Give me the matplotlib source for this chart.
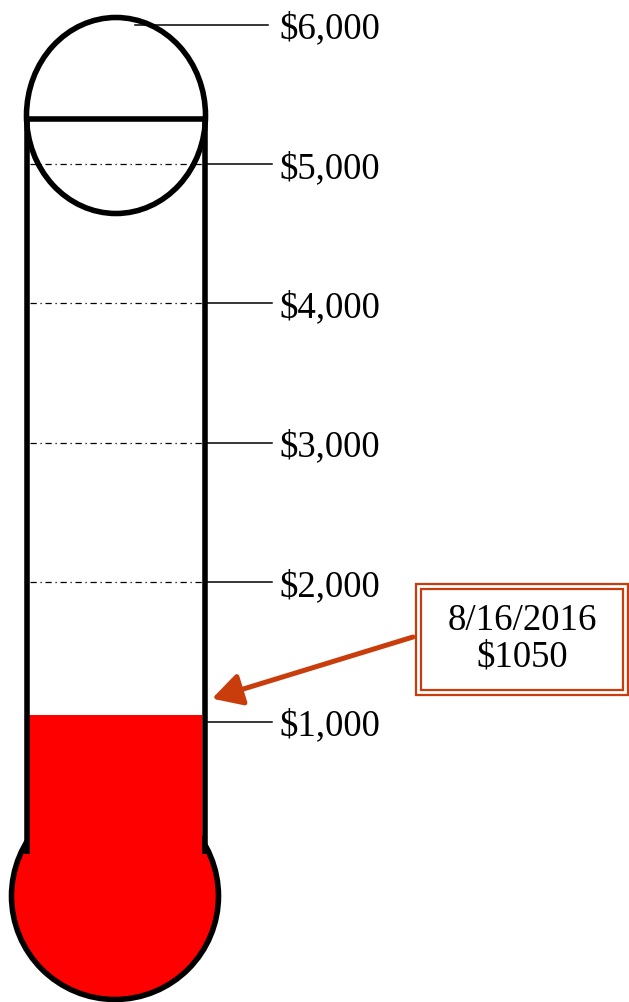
import matplotlib.pyplot as plt
from matplotlib.patches import Ellipse, Rectangle, FancyArrowPatch

# goal thermometer data
tick_values = [1000, 2000, 3000, 4000, 5000, 6000]
tick_labels = ['$1,000', '$2,000', '$3,000', '$4,000', '$5,000', '$6,000']
current_value = 1050
current_date = '8/16/2016'

# pixel <-> dollar mapping used for the drawing
PX0 = 862.0      # pixel row of $0
K = 0.1394       # pixels per dollar


def vy(px):
    return (PX0 - px) / K


fig = plt.figure(figsize=(6.29, 10.03), dpi=100)
ax = fig.add_axes([0, 0, 1, 1])
ax.set_xlim(0, 629)
ax.set_ylim(vy(1003), vy(0))
ax.axis('off')

red = '#FF0000'
orange = '#C93D0C'
lw = 4.0

# bulb
ax.add_patch(Ellipse((115, vy(897)), 207, 207 / K, facecolor=red,
                     edgecolor='black', lw=lw, zorder=2))
# mercury column
ax.add_patch(Rectangle((29, vy(900)), 173, current_value - vy(900),
                       facecolor=red, edgecolor='none', zorder=3))

# tube walls + top cap
ax.plot([26.5, 26.5], [vy(120), vy(855)], color='black', lw=lw, zorder=4,
        solid_capstyle='butt')
ax.plot([204.5, 204.5], [vy(120), vy(855)], color='black', lw=lw, zorder=4,
        solid_capstyle='butt')
ax.plot([24, 207], [vy(120), vy(120)], color='black', lw=lw, zorder=4,
        solid_capstyle='butt')
ax.add_patch(Ellipse((116, vy(116.5)), 179, 196 / K, facecolor='none',
                     edgecolor='black', lw=lw, zorder=4))

# scale lines and labels
for v, lab in zip(tick_values, tick_labels):
    if v == tick_values[-1]:
        ax.plot([135, 268], [v, v], color='black', lw=1.1, zorder=4)
    else:
        if v > current_value:
            ax.plot([30, 202], [v, v], color='black', lw=0.9,
                    ls=(0, (5, 3, 1, 3)), zorder=1)
        ax.plot([207, 272], [v, v], color='black', lw=1.1, zorder=4)
    ax.text(279, v - 25, lab, fontsize=26.5, family='Liberation Serif',
            ha='left', va='center')

# callout box
ax.add_patch(Rectangle((416, vy(696)), 212, (696 - 585) / K, facecolor='none',
                       edgecolor=orange, lw=1.6))
ax.add_patch(Rectangle((421, vy(691)), 202, (691 - 590) / K, facecolor='white',
                       edgecolor=orange, lw=1.6))
ax.text(522, vy(639), current_date + '\n$' + str(current_value), fontsize=26.5,
        family='Liberation Serif', ha='center', va='center', linespacing=1.1)

ax.add_patch(FancyArrowPatch((413, vy(638)), (212, current_value + 115),
                             arrowstyle='-|>,head_length=1.0,head_width=0.55',
                             mutation_scale=18, color=orange, lw=3.6,
                             shrinkA=0, shrinkB=0, zorder=5))

fig.savefig('out.png', dpi=100)
